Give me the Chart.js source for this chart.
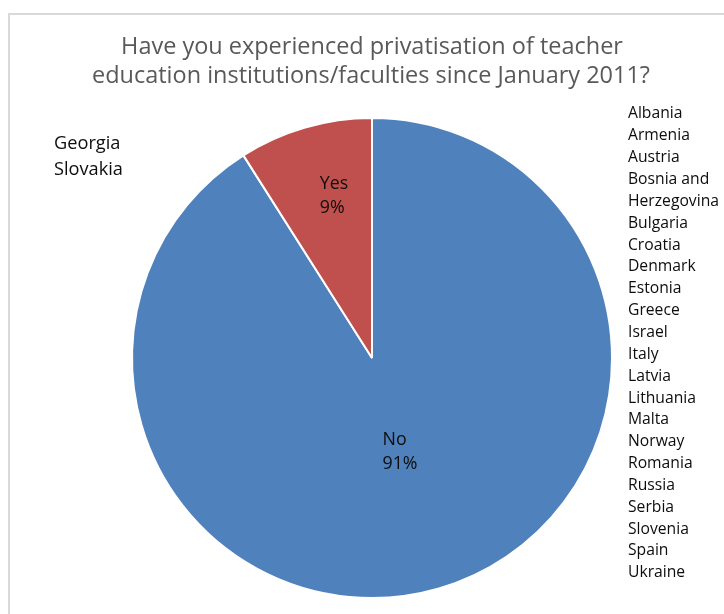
<!DOCTYPE html>
<html>
<head>
<meta charset="utf-8">
<script src="https://cdn.jsdelivr.net/npm/chart.js@4.4.1/dist/chart.umd.min.js"></script>
<style>
  html, body { margin: 0; padding: 0; background: #fff; overflow: hidden; }
  #wrap { position: relative; width: 724px; height: 614px; }
  #frame {
    position: absolute; left: 8px; top: 13px; width: 760px; height: 700px;
    border: 2px solid #d9d9d9; box-sizing: border-box;
  }
  canvas { position: absolute; left: 0; top: 0; }
</style>
</head>
<body>
<div id="wrap">
  <div id="frame"></div>
  <canvas id="pieChart" width="724" height="614"></canvas>
</div>
<script>
// chart data
const titleLines = ['Have you experienced privatisation of teacher', 'education institutions/faculties since January 2011?'];
const answers = ['No', 'Yes'];
const shares = [91, 9];
const sliceColors = ['#4F81BD', '#C0504D'];
const yesCountries = ['Georgia', 'Slovakia'];
const noCountries = [
  'Albania', 'Armenia', 'Austria', 'Bosnia and', 'Herzegovina', 'Bulgaria', 'Croatia',
  'Denmark', 'Estonia', 'Greece', 'Israel', 'Italy', 'Latvia', 'Lithuania', 'Malta',
  'Norway', 'Romania', 'Russia', 'Serbia', 'Slovenia', 'Spain', 'Ukraine'
];

const FONT = '"Open Sans", Lato, sans-serif';

// font size so that a sample string gets a given width (calibri is narrower)
function fitFont(ctx, sample, width) {
  ctx.font = '20px ' + FONT;
  const size = 20 * width / ctx.measureText(sample).width;
  return size.toFixed(2) + 'px ' + FONT;
}

// texts around and inside the pie
const textPlugin = {
  id: 'textPlugin',
  afterDraw(chart) {
    const ctx = chart.ctx;
    ctx.save();
    ctx.textBaseline = 'middle';

    // title
    ctx.fillStyle = '#595959';
    ctx.font = fitFont(ctx, titleLines[1], 558);
    ctx.textAlign = 'center';
    ctx.fillText(titleLines[0], 372, 47);
    ctx.fillText(titleLines[1], 371, 76);

    // country lists
    ctx.fillStyle = '#0d0d0d';
    ctx.textAlign = 'left';
    ctx.font = fitFont(ctx, 'Slovakia', 69);
    yesCountries.forEach((c, i) => ctx.fillText(c, 54, 144 + i * 25.5));
    ctx.font = fitFont(ctx, 'Herzegovina', 91);
    noCountries.forEach((c, i) => ctx.fillText(c, 628, 114 + i * 21.85));

    // slice labels, placed relative to the pie centre
    const meta = chart.getDatasetMeta(0);
    const offsets = [[28, 94], [-38, -162]];
    ctx.font = fitFont(ctx, '91%', 35);
    meta.data.forEach((arc, i) => {
      const x = arc.x + offsets[i][0];
      const y = arc.y + offsets[i][1];
      const lines = [answers[i], shares[i] + '%'];
      const w = Math.max(...lines.map(l => ctx.measureText(l).width));
      ctx.fillStyle = '#0d0d0d';
      ctx.fillText(lines[0], x - w / 2, y - 12);
      ctx.fillText(lines[1], x - w / 2, y + 12);
    });
    ctx.restore();
  }
};

const ctx = document.getElementById('pieChart').getContext('2d');
new Chart(ctx, {
  type: 'pie',
  data: {
    labels: answers,
    datasets: [{
      data: shares,
      backgroundColor: sliceColors,
      borderColor: '#ffffff',
      borderWidth: 2
    }]
  },
  options: {
    responsive: false,
    animation: false,
    layout: { padding: { left: 131, right: 111, top: 117, bottom: 15 } },
    plugins: {
      legend: { display: false },
      title: { display: false },
      tooltip: { enabled: false }
    }
  },
  plugins: [textPlugin]
});
</script>
</body>
</html>
